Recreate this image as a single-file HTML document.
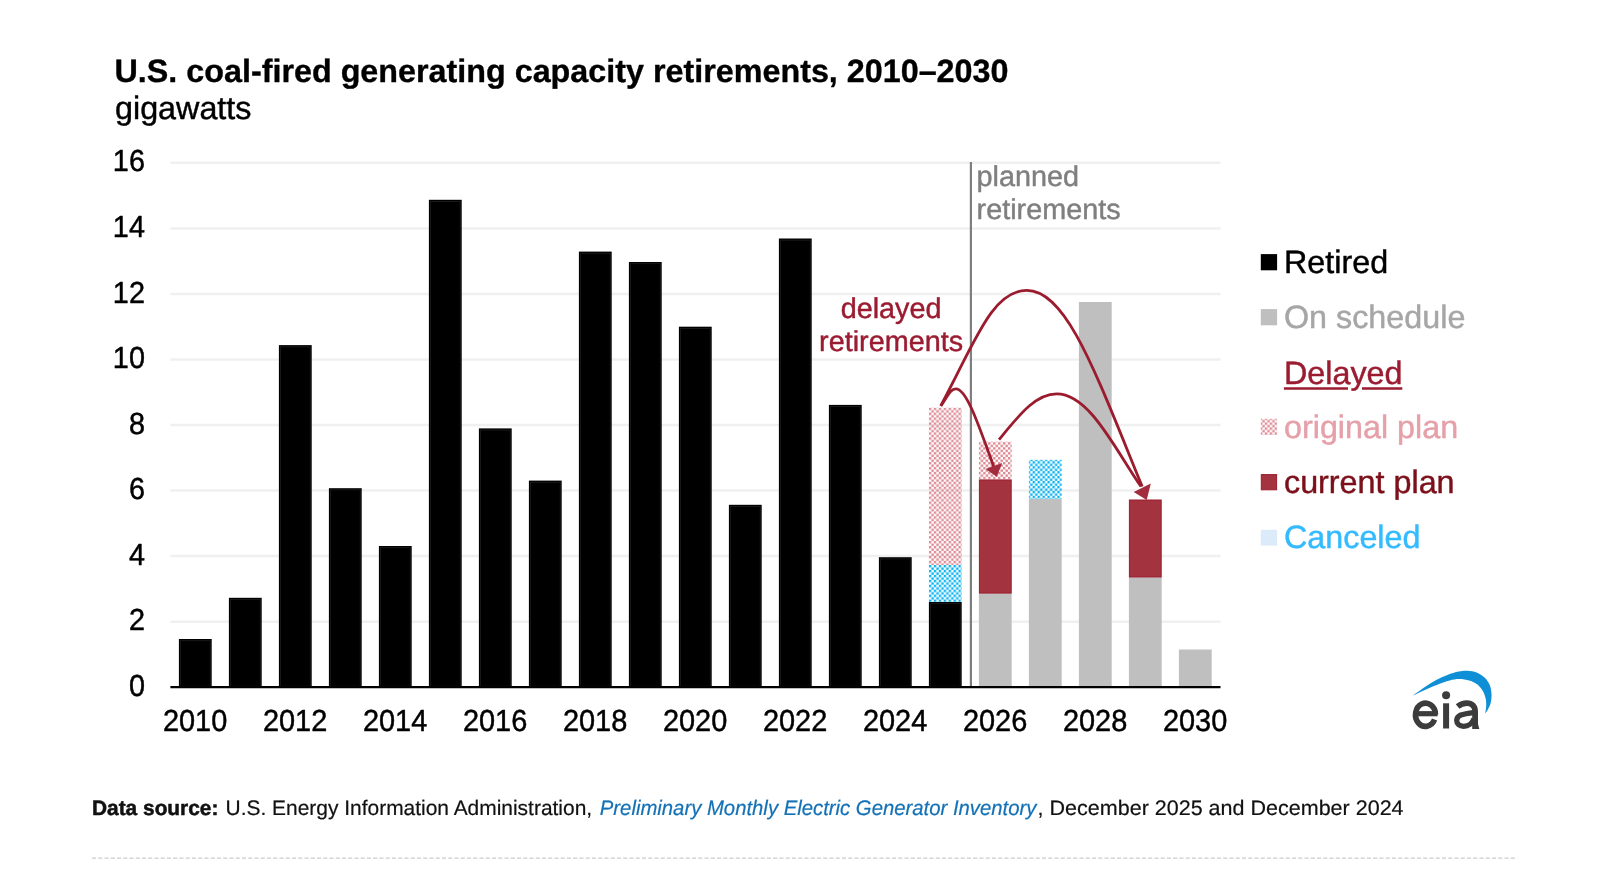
<!DOCTYPE html>
<html><head><meta charset="utf-8"><title>U.S. coal-fired generating capacity retirements</title>
<style>
html,body{margin:0;padding:0;background:#fff;}
body{width:1600px;height:890px;overflow:hidden;font-family:"Liberation Sans",sans-serif;}
svg{display:block;position:absolute;left:0;top:0;will-change:transform;}
text{font-family:"Liberation Sans",sans-serif;text-rendering:geometricPrecision;stroke-linejoin:round;}
.ax{stroke:#000;stroke-width:0.45px;}
.ax{font-size:28.8px;fill:#000;}
.lg{font-size:32.3px;}
</style></head><body>
<svg width="1600" height="890" viewBox="0 0 1600 890">
<defs>
<pattern id="pk" patternUnits="userSpaceOnUse" x="928.9" y="407.7" width="4.94" height="4.94">
<rect x="0" y="0" width="2.38" height="2.38" fill="#dc8791"/><rect x="2.47" y="2.47" width="2.38" height="2.38" fill="#dc8791"/>
</pattern>
<pattern id="bl" patternUnits="userSpaceOnUse" x="928.9" y="565" width="4.94" height="4.94">
<rect x="0" y="0" width="2.38" height="2.38" fill="#08b2f1"/><rect x="2.47" y="2.47" width="2.38" height="2.38" fill="#08b2f1"/>
</pattern>
</defs>
<rect x="0" y="0" width="1600" height="890" fill="#ffffff"/>
<text x="114.5" y="81.7" font-size="32.3" font-weight="bold" fill="#000" stroke="#000" stroke-width="0.35">U.S. coal-fired generating capacity retirements, 2010–2030</text>
<text x="115" y="118.8" font-size="32.3" fill="#000" stroke="#000" stroke-width="0.45">gigawatts</text>
<line x1="170.4" x2="1220.5" y1="621.8" y2="621.8" stroke="#f0f0f0" stroke-width="2.5"/>
<line x1="170.4" x2="1220.5" y1="556.1" y2="556.1" stroke="#f0f0f0" stroke-width="2.5"/>
<line x1="170.4" x2="1220.5" y1="490.6" y2="490.6" stroke="#f0f0f0" stroke-width="2.5"/>
<line x1="170.4" x2="1220.5" y1="425.0" y2="425.0" stroke="#f0f0f0" stroke-width="2.5"/>
<line x1="170.4" x2="1220.5" y1="359.4" y2="359.4" stroke="#f0f0f0" stroke-width="2.5"/>
<line x1="170.4" x2="1220.5" y1="294.1" y2="294.1" stroke="#f0f0f0" stroke-width="2.5"/>
<line x1="170.4" x2="1220.5" y1="228.5" y2="228.5" stroke="#f0f0f0" stroke-width="2.5"/>
<line x1="170.4" x2="1220.5" y1="162.8" y2="162.8" stroke="#f0f0f0" stroke-width="2.5"/>
<text class="ax" transform="translate(144.9 695.8) scale(1 1.055)" text-anchor="end">0</text>
<text class="ax" transform="translate(144.9 630.4) scale(1 1.055)" text-anchor="end">2</text>
<text class="ax" transform="translate(144.9 564.7) scale(1 1.055)" text-anchor="end">4</text>
<text class="ax" transform="translate(144.9 499.2) scale(1 1.055)" text-anchor="end">6</text>
<text class="ax" transform="translate(144.9 433.6) scale(1 1.055)" text-anchor="end">8</text>
<text class="ax" transform="translate(144.9 368.0) scale(1 1.055)" text-anchor="end">10</text>
<text class="ax" transform="translate(144.9 302.7) scale(1 1.055)" text-anchor="end">12</text>
<text class="ax" transform="translate(144.9 237.1) scale(1 1.055)" text-anchor="end">14</text>
<text class="ax" transform="translate(144.9 171.4) scale(1 1.055)" text-anchor="end">16</text>
<rect x="178.9" y="639.0" width="32.8" height="47.2" fill="#000"/>
<rect x="180.4" y="640.7" width="29.799999999999997" height="45.5" fill="none" stroke="#1d1d1d" stroke-width="0.8"/>
<rect x="228.9" y="597.8" width="32.8" height="88.4" fill="#000"/>
<rect x="230.4" y="599.5" width="29.799999999999997" height="86.7" fill="none" stroke="#1d1d1d" stroke-width="0.8"/>
<rect x="278.9" y="345.1" width="32.8" height="341.1" fill="#000"/>
<rect x="280.4" y="346.8" width="29.799999999999997" height="339.4" fill="none" stroke="#1d1d1d" stroke-width="0.8"/>
<rect x="328.9" y="488.2" width="32.8" height="198.0" fill="#000"/>
<rect x="330.4" y="489.9" width="29.799999999999997" height="196.3" fill="none" stroke="#1d1d1d" stroke-width="0.8"/>
<rect x="378.9" y="546.0" width="32.8" height="140.2" fill="#000"/>
<rect x="380.4" y="547.7" width="29.799999999999997" height="138.5" fill="none" stroke="#1d1d1d" stroke-width="0.8"/>
<rect x="428.9" y="199.8" width="32.8" height="486.4" fill="#000"/>
<rect x="430.4" y="201.5" width="29.799999999999997" height="484.7" fill="none" stroke="#1d1d1d" stroke-width="0.8"/>
<rect x="478.9" y="428.4" width="32.8" height="257.8" fill="#000"/>
<rect x="480.4" y="430.1" width="29.799999999999997" height="256.1" fill="none" stroke="#1d1d1d" stroke-width="0.8"/>
<rect x="528.9" y="480.6" width="32.8" height="205.6" fill="#000"/>
<rect x="530.4" y="482.3" width="29.799999999999997" height="203.9" fill="none" stroke="#1d1d1d" stroke-width="0.8"/>
<rect x="578.9" y="251.6" width="32.8" height="434.6" fill="#000"/>
<rect x="580.4" y="253.3" width="29.799999999999997" height="432.9" fill="none" stroke="#1d1d1d" stroke-width="0.8"/>
<rect x="628.9" y="262.0" width="32.8" height="424.2" fill="#000"/>
<rect x="630.4" y="263.7" width="29.799999999999997" height="422.5" fill="none" stroke="#1d1d1d" stroke-width="0.8"/>
<rect x="678.9" y="326.7" width="32.8" height="359.5" fill="#000"/>
<rect x="680.4" y="328.4" width="29.799999999999997" height="357.8" fill="none" stroke="#1d1d1d" stroke-width="0.8"/>
<rect x="728.9" y="504.8" width="32.8" height="181.4" fill="#000"/>
<rect x="730.4" y="506.5" width="29.799999999999997" height="179.7" fill="none" stroke="#1d1d1d" stroke-width="0.8"/>
<rect x="778.9" y="238.5" width="32.8" height="447.7" fill="#000"/>
<rect x="780.4" y="240.2" width="29.799999999999997" height="446.0" fill="none" stroke="#1d1d1d" stroke-width="0.8"/>
<rect x="828.9" y="404.9" width="32.8" height="281.3" fill="#000"/>
<rect x="830.4" y="406.6" width="29.799999999999997" height="279.6" fill="none" stroke="#1d1d1d" stroke-width="0.8"/>
<rect x="878.9" y="557.2" width="32.8" height="129.0" fill="#000"/>
<rect x="880.4" y="558.9" width="29.799999999999997" height="127.3" fill="none" stroke="#1d1d1d" stroke-width="0.8"/>
<rect x="928.9" y="602.0" width="32.8" height="84.2" fill="#000"/>
<rect x="930.4" y="603.7" width="29.799999999999997" height="82.5" fill="none" stroke="#1d1d1d" stroke-width="0.8"/>
<rect x="928.9" y="565" width="32.8" height="37.1" fill="url(#bl)"/>
<rect x="928.9" y="407.7" width="32.8" height="157.3" fill="url(#pk)"/>
<rect x="978.9" y="593.4" width="32.8" height="92.8" fill="#bfbfbf"/>
<rect x="979.4" y="479.9" width="31.799999999999997" height="113.2" fill="#a3333f" stroke="#9b1c2e" stroke-width="1"/>
<rect x="978.9" y="441.7" width="32.8" height="37.7" fill="url(#pk)"/>
<rect x="1028.9" y="499.0" width="32.8" height="187.2" fill="#bfbfbf"/>
<rect x="1028.9" y="459.8" width="32.8" height="39.2" fill="url(#bl)"/>
<rect x="1078.9" y="302.0" width="32.8" height="384.2" fill="#bfbfbf"/>
<rect x="1128.9" y="577.3" width="32.8" height="108.9" fill="#bfbfbf"/>
<rect x="1129.4" y="500.0" width="31.799999999999997" height="77.0" fill="#a3333f" stroke="#9b1c2e" stroke-width="1"/>
<rect x="1178.9" y="649.5" width="32.8" height="36.7" fill="#bfbfbf"/>
<line x1="170.4" x2="1220.5" y1="687.1" y2="687.1" stroke="#000" stroke-width="2.4"/>
<line x1="970.9" x2="970.9" y1="162" y2="686" stroke="#7f7f7f" stroke-width="2.2"/>
<text class="ax" transform="translate(195.1 731.2) scale(1.005 1.055)" text-anchor="middle">2010</text>
<text class="ax" transform="translate(295.1 731.2) scale(1.005 1.055)" text-anchor="middle">2012</text>
<text class="ax" transform="translate(395.1 731.2) scale(1.005 1.055)" text-anchor="middle">2014</text>
<text class="ax" transform="translate(495.1 731.2) scale(1.005 1.055)" text-anchor="middle">2016</text>
<text class="ax" transform="translate(595.1 731.2) scale(1.005 1.055)" text-anchor="middle">2018</text>
<text class="ax" transform="translate(695.1 731.2) scale(1.005 1.055)" text-anchor="middle">2020</text>
<text class="ax" transform="translate(795.1 731.2) scale(1.005 1.055)" text-anchor="middle">2022</text>
<text class="ax" transform="translate(895.1 731.2) scale(1.005 1.055)" text-anchor="middle">2024</text>
<text class="ax" transform="translate(995.1 731.2) scale(1.005 1.055)" text-anchor="middle">2026</text>
<text class="ax" transform="translate(1095.1 731.2) scale(1.005 1.055)" text-anchor="middle">2028</text>
<text class="ax" transform="translate(1195.1 731.2) scale(1.005 1.055)" text-anchor="middle">2030</text>
<text x="976.6" y="185.5" font-size="28.8" fill="#7f7f7f" stroke="#7f7f7f" stroke-width="0.45">planned</text>
<text x="976.6" y="218.6" font-size="28.8" fill="#7f7f7f" stroke="#7f7f7f" stroke-width="0.45">retirements</text>
<text x="891.1" y="317.8" font-size="28.8" fill="#9b1c31" stroke="#9b1c31" stroke-width="0.45" text-anchor="middle">delayed</text>
<text x="891.1" y="350.9" font-size="28.8" fill="#9b1c31" stroke="#9b1c31" stroke-width="0.45" text-anchor="middle">retirements</text>
<g fill="none" stroke="#9b1c2e" stroke-width="2.8" stroke-linecap="butt">
<path d="M940.7 405.8 C974.6 342.9 991.9 290.4 1026.7 290.4 C1066.7 290.4 1095.3 372.1 1142.2 486.5"/>
<path d="M940.9 405.9 C947.5 396.9 949.9 388.8 956.0 388.8 C966.3 388.8 977.6 422.0 993.9 467.0"/>
<path d="M999.0 439.6 C1019.2 415.2 1035.3 393.9 1056.8 393.9 C1089.9 393.9 1115.9 450.9 1141.0 486.5"/>
</g>
<polygon points="985.6,469.0 1002.2,463.1 996.7,476.8" fill="#a22d3c"/>
<polygon points="1133.7,492.1 1150.8,483.6 1146.7,500.0" fill="#a22d3c"/>
<rect x="1260.8" y="254.1" width="16.3" height="16.2" fill="#000"/>
<text class="lg" x="1284.0" y="272.5" fill="#000" stroke="#000" stroke-width="0.45">Retired</text>
<rect x="1260.8" y="309.1" width="16.3" height="16.2" fill="#bfbfbf"/>
<text class="lg" x="1284.0" y="327.5" fill="#a6a6a6" stroke="#a6a6a6" stroke-width="0.45">On schedule</text>
<text class="lg" x="1284.0" y="383.7" fill="#9b1c31" stroke="#9b1c31" stroke-width="0.45">Delayed</text>
<path d="M1283.9 388.5 H1348 M1362 388.5 H1402.3" stroke="#9b1c31" stroke-width="2.4" fill="none"/>
<rect x="1260.8" y="418.8" width="16.3" height="16.2" fill="url(#pk)"/>
<text class="lg" x="1284.0" y="437.7" fill="#e5a0a9" stroke="#e5a0a9" stroke-width="0.45">original plan</text>
<rect x="1261.3" y="474.6" width="15.3" height="15.2" fill="#a3333f" stroke="#9b1c2e" stroke-width="1"/>
<text class="lg" x="1284.0" y="492.7" fill="#7b0f1a" stroke="#7b0f1a" stroke-width="0.45">current plan</text>
<rect x="1260.8" y="529.8" width="16.3" height="15.8" fill="#dbebf9"/>
<text class="lg" x="1284.0" y="547.7" fill="#33bbff" stroke="#33bbff" stroke-width="0.45">Canceled</text>
<g id="eia">
<path d="M1413.1 695.5 C1415.1 694.1 1421.1 689.7 1424.9 687.1 C1428.8 684.5 1432.5 682.1 1436.2 680.1 C1440.0 678.1 1443.7 676.3 1447.4 674.9 C1451.2 673.5 1455.3 672.3 1458.7 671.6 C1462.1 670.9 1464.6 670.6 1467.6 670.8 C1470.6 670.9 1473.8 671.4 1476.6 672.5 C1479.4 673.6 1482.3 675.5 1484.5 677.5 C1486.7 679.5 1488.4 682.1 1489.6 684.8 C1490.8 687.5 1491.3 690.8 1491.5 693.8 C1491.7 696.8 1491.3 700.2 1490.7 702.8 C1490.1 705.4 1488.8 707.8 1487.9 709.6 C1487.0 711.4 1485.6 712.9 1485.1 713.5 C1485.3 712.3 1486.1 708.7 1486.2 706.2 C1486.3 703.7 1486.2 700.8 1485.6 698.3 C1485.0 695.8 1484.1 693.2 1482.8 691.0 C1481.5 688.8 1479.8 686.5 1477.8 684.8 C1475.8 683.1 1473.5 681.8 1471.0 680.9 C1468.5 680.0 1465.9 679.5 1463.1 679.2 C1460.3 679.0 1457.2 679.0 1454.2 679.4 C1451.2 679.8 1448.6 680.6 1445.2 681.7 C1441.8 682.8 1437.7 684.5 1433.9 686.0 C1430.2 687.5 1426.2 689.4 1422.7 691.0 C1419.2 692.6 1414.7 694.8 1413.1 695.5 Z" fill="#0f8fd6"/>
<g fill="none" stroke="#3c3c3c" stroke-linecap="butt">
<path d="M1416.5 713.7 H1437.6" stroke-width="5.2"/>
<path d="M1435.5 714.6 A10 11.6 0 1 0 1434.6 719.6" stroke-width="5.6"/>
<path d="M1446.1 703.3 V728.5" stroke-width="6"/>
<path d="M1457.6 706.6 C1460.6 704.2 1463.4 703.1 1466.8 703.1 C1472 703.1 1475.1 706 1475.1 711.5 V729" stroke-width="5.8"/>
<path d="M1477.5 722 L1479.3 729 H1476 Z" fill="#3c3c3c" stroke="none"/>
<path d="M1474.5 712.3 C1468 713.2 1463.5 714 1460.8 715 C1457.8 716.3 1456.7 718.3 1456.7 720.6 C1456.7 724.2 1459.6 726.3 1463.6 726.3 C1468.4 726.3 1472.6 723.2 1474 718.5" stroke-width="5.3"/>
</g>
<circle cx="1446.1" cy="695.2" r="4" fill="#3c3c3c"/>
</g>
<text x="92.0" y="815.1" font-size="21" font-weight="bold" fill="#111" stroke="#111" stroke-width="0.5" textLength="126.4" lengthAdjust="spacingAndGlyphs">Data source:</text>
<text x="225.6" y="815.1" font-size="21" fill="#111" stroke="#111" stroke-width="0.2" textLength="366.5" lengthAdjust="spacingAndGlyphs">U.S. Energy Information Administration,</text>
<text x="599.8" y="815.1" font-size="21" font-style="italic" fill="#1371b6" stroke="#1371b6" stroke-width="0.2" textLength="436.6" lengthAdjust="spacingAndGlyphs">Preliminary Monthly Electric Generator Inventory</text>
<text x="1037.6" y="815.1" font-size="21" fill="#111" stroke="#111" stroke-width="0.2" textLength="366" lengthAdjust="spacingAndGlyphs">, December 2025 and December 2024</text>
<line x1="92" x2="1517.3" y1="858.1" y2="858.1" stroke="#cbcbcb" stroke-width="1.1" stroke-dasharray="4 2.25"/>
</svg>
</body></html>
